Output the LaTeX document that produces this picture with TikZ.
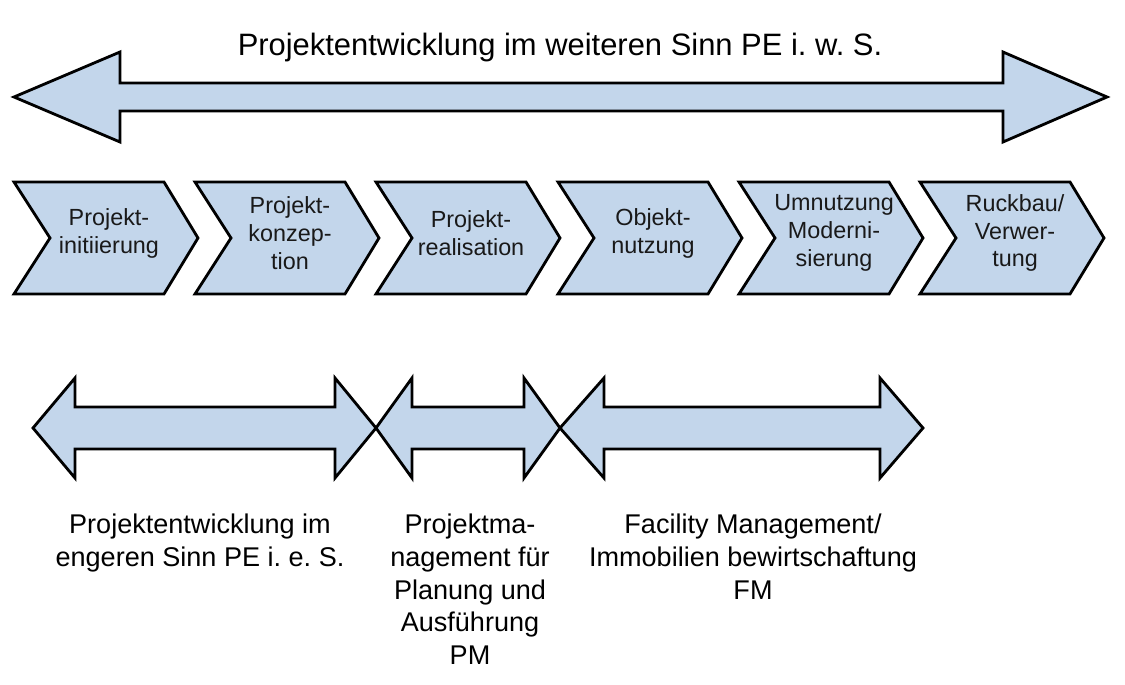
\documentclass[tikz,border=0pt]{standalone}
\usepackage{fontspec}
\setmainfont{Liberation Sans}
\usetikzlibrary{positioning}
\definecolor{phaseblue}{RGB}{195,214,235}
\definecolor{phasetextc}{RGB}{25,25,25}
\frenchspacing

\begin{document}
\begin{tikzpicture}[
  x=0.02cm, y=-0.02cm,
  bigarrow/.style={draw=black, fill=phaseblue, line width=1.6pt, line join=miter},
  chevron/.style={draw=black, fill=phaseblue, line width=1.6pt, line join=miter},
  phasetext/.style={align=center, inner sep=0pt, text=phasetextc,
    font=\fontsize{13.3}{15.9}\selectfont},
  toplabel/.style={inner sep=0pt, font=\fontsize{17.6}{21}\selectfont},
  botlabel/.style={align=center, anchor=north, inner sep=0pt,
    font=\fontsize{15.4}{18.6}\selectfont},
]
\useasboundingbox (0,0) rectangle (1125,685);

% PE i. w. S.
\draw[bigarrow] (14,97) -- (120,52) -- (120,83) -- (1003,83) -- (1003,52)
  -- (1107,97) -- (1003,142) -- (1003,111) -- (120,111) -- (120,142) -- cycle;
\node[toplabel] (pews) at (560,48) {Projektentwicklung im weiteren Sinn PE i. w. S.};

% phases
\foreach \x/\txt [count=\i] in {14/{Projekt-\\initiierung},
    195/{Projekt-\\konzep-\\tion}, 376/{Projekt-\\realisation},
    558/{Objekt-\\nutzung}, 739/{Umnutzung\\Moderni-\\sierung},
    920/{Ruckbau/\\Verwer-\\tung}} {
  \draw[chevron] (\x,182) -- ++(150,0) -- ++(34,56) -- ++(-34,56)
    -- ++(-150,0) -- ++(36,-56) -- cycle;
  \node[phasetext] (phase\i) at (\x+95,233) {\txt};
}

% PE i. e. S., PM, FM
\draw[bigarrow] (33,428) -- (75,378) -- (75,407) -- (335,407) -- (335,378)
  -- (376,428) -- (335,478) -- (335,449) -- (75,449) -- (75,478) -- cycle;
\draw[bigarrow] (376,428) -- (412,378) -- (412,407) -- (524,407) -- (524,378)
  -- (560,428) -- (524,478) -- (524,449) -- (412,449) -- (412,478) -- cycle;
\draw[bigarrow] (560,428) -- (604,378) -- (604,407) -- (880,407) -- (880,378)
  -- (923,428) -- (880,478) -- (880,449) -- (604,449) -- (604,478) -- cycle;

\node[botlabel] (peies) at (200,514) {Projektentwicklung im\\engeren Sinn PE i. e. S.};
\node[botlabel] (pm) at (470,514) {Projektma-\\nagement für\\Planung und\\Ausführung\\PM};
\node[botlabel] (fm) at (753,514) {Facility Management/\\Immobilien bewirtschaftung\\FM};
\end{tikzpicture}
\end{document}
